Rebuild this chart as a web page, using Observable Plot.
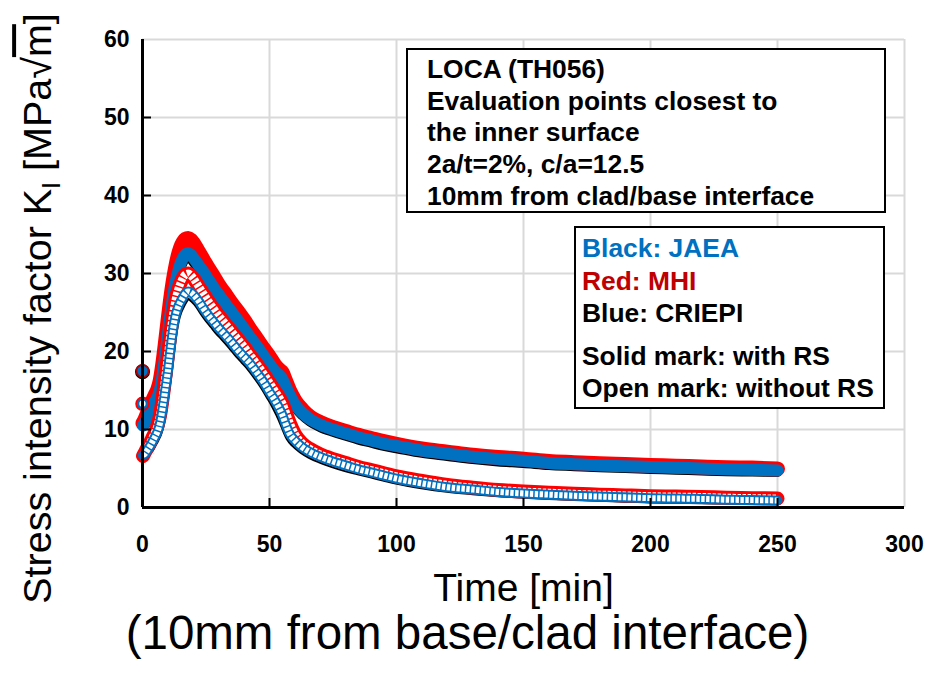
<!DOCTYPE html>
<html>
<head>
<meta charset="utf-8">
<script src="https://cdn.jsdelivr.net/npm/d3@7"></script>
<script src="https://cdn.jsdelivr.net/npm/@observablehq/plot@0.6"></script>
<style>
  html, body { margin: 0; padding: 0; background: white; }
  #wrap { position: relative; width: 933px; height: 674px; overflow: hidden; font-family: "Liberation Sans", Arial, sans-serif; }
  .box { position: absolute; background: white; border: 2px solid black; box-sizing: border-box; font-weight: bold; font-size: 26.4px; color: black; white-space: nowrap; }
  #box1 { left: 406px; top: 48px; width: 480px; height: 165px; padding: 4px 0 0 19px; line-height: 31.7px; }
  #box2 { left: 574px; top: 226px; width: 311px; height: 183px; padding: 4px 0 0 6px; line-height: 32.5px; }
  #box2 .gap { height: 10px; }
</style>
</head>
<body>
<div id="wrap"></div>
<script>
// ---- data ----
const time = [
  0, 0.2, 1, 2, 3, 4, 5, 6, 7, 8, 9,
  10, 11, 12, 13, 14, 15, 16, 17, 18, 19,
  20, 22, 24, 26, 28, 30, 32, 35, 38, 40,
  42, 45, 48, 50, 52, 54, 55, 56, 58, 60,
  63, 66, 70, 75, 80, 85, 90, 95, 100, 110,
  120, 130, 140, 150, 160, 170, 180, 190, 200, 210,
  220, 230, 240, 250
];
// with residual stress (solid marks)
const jaeaSolid = [
  17.4, 10.4, 10.6, 11.2, 11.9, 12.6, 13.2, 13.8, 14.8, 16.6, 19.0,
  21.6, 24.2, 26.4, 28.2, 29.6, 30.7, 31.5, 32.0, 32.1, 31.9,
  31.5, 30.6, 29.7, 28.8, 27.8, 26.9, 26.0, 24.7, 23.4, 22.5,
  21.6, 20.3, 18.9, 18.0, 17.1, 16.5, 16.1, 15.4, 14.0, 12.9,
  11.8, 11.0, 10.3, 9.7, 9.2, 8.7, 8.3, 7.9, 7.6, 7.0,
  6.6, 6.2, 5.9, 5.7, 5.45, 5.3, 5.15, 5.05, 4.95, 4.85,
  4.75, 4.65, 4.6, 4.55
];
const mhiSolid = [
  17.5, 10.8, 11.3, 12.1, 12.9, 13.7, 14.4, 15.1, 16.3, 18.4, 21.0,
  23.8, 26.5, 28.8, 30.7, 32.2, 33.3, 34.0, 34.4, 34.5, 34.3,
  33.9, 32.8, 31.7, 30.6, 29.6, 28.5, 27.6, 26.2, 24.9, 24.0,
  23.0, 21.6, 20.2, 19.3, 18.3, 17.6, 17.3, 16.5, 14.9, 13.7,
  12.5, 11.6, 10.9, 10.25, 9.75, 9.25, 8.85, 8.45, 8.1, 7.5,
  7.1, 6.7, 6.4, 6.2, 5.9, 5.75, 5.6, 5.5, 5.4, 5.3,
  5.2, 5.1, 5.05, 4.95
];
const criepiSolid = [
  17.5, 10.5, 10.9, 11.6, 12.3, 13.0, 13.6, 14.2, 15.3, 17.2, 19.6,
  22.2, 24.8, 27.0, 28.8, 30.2, 31.3, 32.0, 32.5, 32.6, 32.4,
  32.0, 31.1, 30.2, 29.2, 28.2, 27.3, 26.4, 25.1, 23.8, 22.9,
  22.0, 20.7, 19.3, 18.4, 17.5, 16.9, 16.5, 15.8, 14.4, 13.2,
  12.1, 11.3, 10.6, 10.0, 9.5, 9.0, 8.6, 8.2, 7.9, 7.3,
  6.9, 6.5, 6.2, 6.0, 5.7, 5.55, 5.4, 5.3, 5.2, 5.1,
  5.0, 4.9, 4.85, 4.75
];
// without residual stress (open marks)
const jaeaOpen = [
  13.2, 6.5, 6.7, 7.2, 7.6, 8.2, 8.8, 9.5, 10.6, 12.4, 14.7,
  17.0, 19.8, 22.3, 24.1, 25.2, 25.9, 26.5, 27.0, 27.2, 27.1,
  26.8, 26.1, 25.1, 24.2, 23.4, 22.6, 21.9, 20.8, 19.6, 18.9,
  18.2, 16.9, 15.5, 14.4, 13.3, 12.0, 11.3, 10.5, 9.0, 8.2,
  7.4, 6.8, 6.2, 5.6, 5.1, 4.7, 4.3, 3.9, 3.5, 2.9,
  2.45, 2.15, 1.9, 1.7, 1.55, 1.4, 1.3, 1.2, 1.1, 1.05,
  1.0, 0.95, 0.9, 0.85
];
const mhiOpen = [
  13.3, 6.6, 7.1, 7.7, 8.3, 9.0, 9.7, 10.6, 12.0, 14.2, 16.8,
  19.5, 22.3, 24.7, 26.6, 27.9, 28.8, 29.5, 29.9, 30.0, 29.8,
  29.4, 28.4, 27.4, 26.4, 25.5, 24.6, 23.8, 22.6, 21.4, 20.6,
  19.7, 18.4, 17.0, 16.0, 15.0, 14.0, 13.4, 12.6, 10.8, 9.4,
  8.2, 7.5, 6.8, 6.2, 5.7, 5.2, 4.8, 4.4, 4.0, 3.4,
  2.9, 2.55, 2.25, 2.05, 1.9, 1.75, 1.65, 1.55, 1.45, 1.4,
  1.35, 1.25, 1.2, 1.15
];
const criepiOpen = [
  13.3, 6.7, 6.9, 7.4, 7.9, 8.5, 9.1, 9.8, 11.0, 12.9, 15.2,
  17.5, 20.3, 22.8, 24.6, 25.7, 26.4, 27.0, 27.5, 27.7, 27.6,
  27.3, 26.5, 25.5, 24.6, 23.8, 23.0, 22.3, 21.2, 20.0, 19.3,
  18.6, 17.3, 15.9, 14.8, 13.8, 12.6, 11.9, 11.0, 9.4, 8.6,
  7.7, 7.1, 6.5, 5.9, 5.4, 4.9, 4.5, 4.1, 3.7, 3.1,
  2.6, 2.3, 2.0, 1.8, 1.65, 1.5, 1.4, 1.3, 1.2, 1.15,
  1.1, 1.0, 0.95, 0.9
];
const xTicks = [0, 50, 100, 150, 200, 250, 300];
const yTicks = [0, 10, 20, 30, 40, 50, 60];
const xTitle = "Time [min]";
const xSubtitle = "(10mm from base/clad interface)";
const yTitle = "Stress intensity factor KI [MPa√m]";
const infoLines = ["LOCA (TH056)", "Evaluation points closest to", "the inner surface", "2a/t=2%, c/a=12.5", "10mm from clad/base interface"];
const legendLines = [
  {text: "Black: JAEA", color: "#0070C0"},
  {text: "Red: MHI", color: "#C00000"},
  {text: "Blue: CRIEPI", color: "#000000"},
  {text: "Solid mark: with RS", color: "#000000"},
  {text: "Open mark: without RS", color: "#000000"}
];

// ---- helpers ----
const BLUE = "#0070C0", RED = "#FF0000", BLACK = "#000000";
function rows(values) { return time.map((t, i) => ({t, k: values[i]})); }
const lineOpts = {x: "t", y: "k", curve: "monotone-x", strokeLinejoin: "round", strokeLinecap: "round"};

function solidMarks(values, color, width) {
  const d = rows(values);
  return [
    Plot.line(d.filter(r => r.t <= 0.2), {x: "t", y: "k", stroke: color, strokeWidth: 2.5}),
    Plot.line(d.filter(r => r.t > 0), {...lineOpts, stroke: color, strokeWidth: width})
  ];
}
function openMarks(values, color, width, inner, dash) {
  const d = rows(values);
  return [
    Plot.line(d.filter(r => r.t <= 0.2), {x: "t", y: "k", stroke: color, strokeWidth: 2.5}),
    Plot.line(d.filter(r => r.t > 0), {...lineOpts, stroke: color, strokeWidth: width}),
    Plot.line(d.filter(r => r.t > 0), {...lineOpts, stroke: "white", strokeWidth: inner, strokeDasharray: dash, strokeLinecap: "butt"})
  ];
}
function startDot(values, fill, stroke, r, sw) {
  const d = rows(values).filter(r0 => r0.t === 0);
  return Plot.dot(d, {x: "t", y: "k", r, fill, stroke, strokeWidth: sw});
}

const chart = Plot.plot({
  width: 933,
  height: 674,
  marginLeft: 142,
  marginRight: 29,
  marginTop: 39,
  marginBottom: 167,
  x: {domain: [0, 300]},
  y: {domain: [0, 60]},
  style: {fontFamily: "'Liberation Sans', Arial, sans-serif", background: "white", overflow: "visible", color: "black"},
  marks: [
    Plot.gridX(xTicks, {stroke: "#d9d9d9", strokeOpacity: 1, strokeWidth: 2}),
    Plot.gridY(yTicks, {stroke: "#d9d9d9", strokeOpacity: 1, strokeWidth: 2}),
    // solid marks: with RS
    ...solidMarks(jaeaSolid, BLACK, 10),
    ...solidMarks(mhiSolid, RED, 15),
    ...solidMarks(criepiSolid, BLUE, 12),
    startDot(jaeaSolid, BLACK, "none", 7.5, 0),
    startDot(mhiSolid, "#B00000", "none", 7, 0),
    startDot(criepiSolid, BLUE, "none", 5.2, 0),
    // open marks: without RS
    ...openMarks(jaeaOpen, BLACK, 9, 5, null),
    ...openMarks(mhiOpen, RED, 14, 8, "3.5,1.5"),
    ...openMarks(criepiOpen, BLUE, 10, 6, "3.4,1.5"),
    startDot(mhiOpen, "white", RED, 6, 2.5),
    startDot(criepiOpen, "white", BLUE, 4.3, 2.3),
    // axes
    Plot.ruleX([0], {stroke: "black", strokeWidth: 3}),
    Plot.ruleY([0], {stroke: "black", strokeWidth: 3}),
    Plot.tickX(xTicks.filter(v => v > 0 && v < 300), {x: d => d, stroke: "black", strokeWidth: 2, insetTop: 459}),
    Plot.tickY(yTicks.filter(v => v > 0 && v < 60), {y: d => d, stroke: "black", strokeWidth: 2, insetRight: 753}),
    Plot.axisX(xTicks, {tickSize: 0, tickPadding: 28, fontSize: 23, fontWeight: "bold", label: null}),
    Plot.axisY(yTicks, {tickSize: 0, tickPadding: 13, fontSize: 23, fontWeight: "bold", label: null}),
    Plot.text([xTitle], {frameAnchor: "bottom", dy: 93, fontSize: 39}),
    Plot.text([xSubtitle], {frameAnchor: "bottom", dx: -56, dy: 141, fontSize: 47.5}),
    Plot.text([yTitle], {frameAnchor: "left", textAnchor: "middle", dx: -104, dy: 35, rotate: -90, fontSize: 39.5})
  ]
});

const wrap = document.getElementById("wrap");
wrap.appendChild(chart);

// y title with subscript I and radical over m
d3.select(chart).selectAll("text").each(function() {
  if (this.textContent === yTitle) {
    const t = d3.select(this);
    t.text(null);
    t.append("tspan").text("Stress intensity factor K");
    t.append("tspan").attr("dy", 9).attr("font-size", 25).text("I");
    t.append("tspan").attr("dy", -9).text(" [MPa√");
    t.append("tspan").style("text-decoration", "overline").text("m");
    t.append("tspan").text("]");
  }
});

// annotation boxes
const box1 = document.createElement("div");
box1.className = "box"; box1.id = "box1";
infoLines.forEach(s => { const l = document.createElement("div"); l.textContent = s; box1.appendChild(l); });
wrap.appendChild(box1);

const box2 = document.createElement("div");
box2.className = "box"; box2.id = "box2";
legendLines.forEach((o, i) => {
  if (i === 3) { const g = document.createElement("div"); g.className = "gap"; box2.appendChild(g); }
  const l = document.createElement("div"); l.textContent = o.text; l.style.color = o.color; box2.appendChild(l);
});
wrap.appendChild(box2);
</script>
</body>
</html>
